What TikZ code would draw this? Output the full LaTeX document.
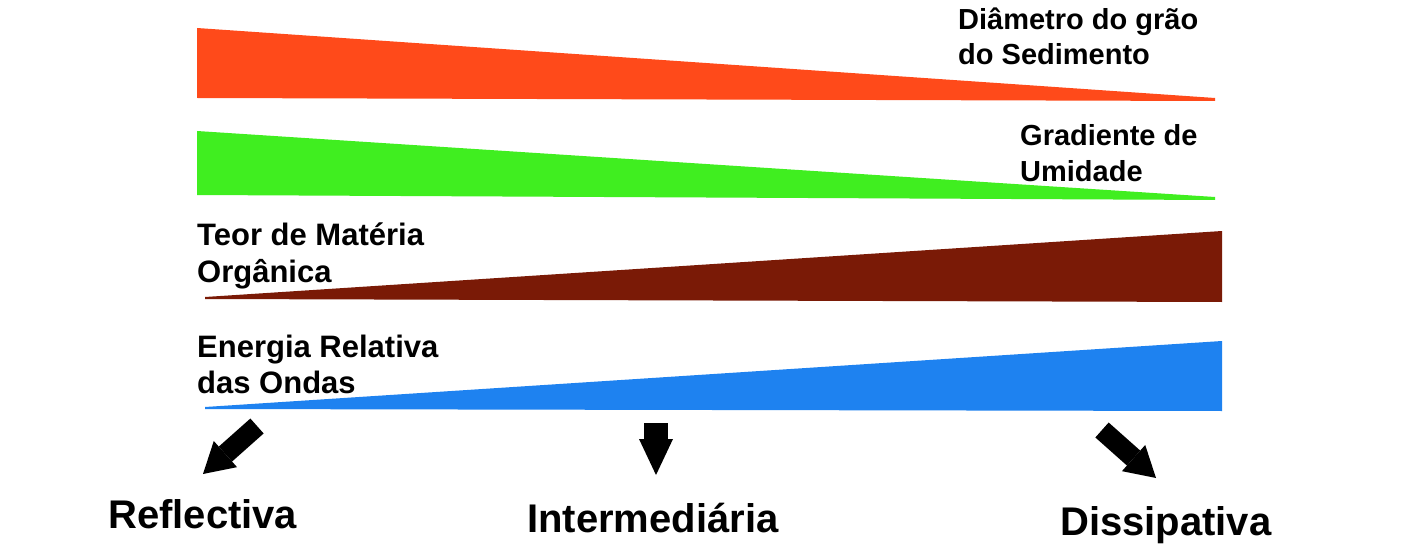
\documentclass[tikz,border=0pt]{standalone}
\usepackage{fontspec}
\setmainfont{Liberation Sans}
\usetikzlibrary{arrows.meta}
\definecolor{wred}{RGB}{255,74,26}
\definecolor{wgreen}{RGB}{64,238,32}
\definecolor{wbrown}{RGB}{122,26,6}
\definecolor{wblue}{RGB}{30,130,240}
\begin{document}
\begin{tikzpicture}[x=1pt,y=-1pt,
  lab/.style={font=\fontsize{29}{36}\selectfont\bfseries, anchor=base west, inner sep=0pt},
  labl/.style={font=\fontsize{31}{37}\selectfont\bfseries, anchor=base west, inner sep=0pt},
  big/.style={font=\fontsize{40}{48}\selectfont\bfseries, anchor=base west, inner sep=0pt},
  diagarr/.style={line width=20pt, -{Triangle[length=30pt,width=35pt,line width=0pt]}},
  vertarr/.style={line width=24pt, -{Triangle[length=36pt,width=34pt,line width=0pt]}},
  wedge/.style={draw=none}]
\useasboundingbox[fill=white] (0,0) rectangle (1402,548);
% wedges
\fill[wedge,wred] (197,28) -- (1215,98) -- (1215,101) -- (197,98) -- cycle;
\fill[wedge,wgreen] (197,131) -- (1215,197) -- (1215,200) -- (197,195) -- cycle;
\fill[wedge,wbrown] (205,297) -- (1222,231) -- (1222,302) -- (205,299) -- cycle;
\fill[wedge,wblue] (205,407) -- (1222,341) -- (1222,411) -- (205,409) -- cycle;
% labels
\node[lab] (diam1) at (958,30) {Diâmetro do grão};
\node[lab] (diam2) at (958,65) {do Sedimento};
\node[lab] (grad1) at (1020,146) {Gradiente de};
\node[lab] (grad2) at (1020,182) {Umidade};
\node[labl] (teor1) at (197,245) {Teor de Matéria};
\node[labl] (teor2) at (197,282) {Orgânica};
\node[labl] (ener1) at (197,357) {Energia Relativa};
\node[labl] (ener2) at (197,393) {das Ondas};
\node[big] (refl) at (108,528) {Reflectiva};
\node[big] (inter) at (527,532) {Intermediária};
\node[big] (diss) at (1060,535) {Dissipativa};
% arrows
\coordinate (rtail) at (257,426);
\coordinate (rtip) at (203,474);
\coordinate (itail) at (656,423);
\coordinate (itip) at (656,475);
\coordinate (dtail) at (1102,430);
\coordinate (dtip) at (1156,478);
\draw[diagarr] (rtail) -- (rtip);
\draw[vertarr] (itail) -- (itip);
\draw[diagarr] (dtail) -- (dtip);
\end{tikzpicture}
\end{document}
